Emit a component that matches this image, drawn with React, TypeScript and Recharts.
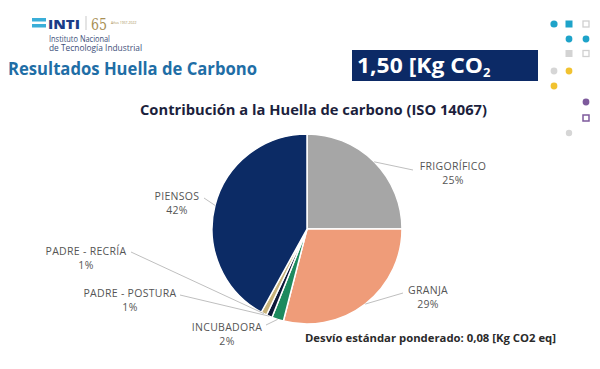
import { PieChart, Pie, Cell } from 'recharts';

const categories = ['FRIGORÍFICO', 'GRANJA', 'INCUBADORA', 'PADRE - POSTURA', 'PADRE - RECRÍA', 'PIENSOS'];
const shares = [25, 29, 2, 1, 1, 42];
const sliceColors = ['#a6a6a6', '#ef9c79', '#1d8a5e', '#0e1838', '#c8b27a', '#0c2b65'];

// label placement relative to pie center: text center (tx, ty) and leader end (ex, ey)
const labelSpots = [
  { tx: 146, ty: -63, ex: 106, ey: -59 },
  { tx: 121, ty: 61, ex: 96, ey: 64 },
  { tx: -80, ty: 98, ex: -41, ey: 96 },
  { tx: -177, ty: 64, ex: -127, ey: 66 },
  { tx: -221, ty: 22, ex: -176, ey: 23 },
  { tx: -130, ty: -33, ex: -103, ey: -31 },
];

const data = categories.map((name, i) => ({ name, value: shares[i] }));

const RAD = Math.PI / 180;
const FONT = '"Open Sans", "DejaVu Sans", sans-serif';

function renderLabel(props: any) {
  const { cx, cy, midAngle, outerRadius, index, name, percent } = props;
  const spot = labelSpots[index];
  const sx = cx + outerRadius * Math.cos(-midAngle * RAD);
  const sy = cy + outerRadius * Math.sin(-midAngle * RAD);
  const tx = cx + spot.tx;
  const ty = cy + spot.ty;
  return (
    <g key={`lbl-${index}`}>
      <line x1={sx} y1={sy} x2={cx + spot.ex} y2={cy + spot.ey} stroke="#bfbfbf" strokeWidth={1} />
      <text x={tx} y={ty} textAnchor="middle" dominantBaseline="central" fill="#555555" fontSize={10.5} letterSpacing={0.3} fontFamily={FONT}>
        {name}
      </text>
      <text x={tx} y={ty + 13.5} textAnchor="middle" dominantBaseline="central" fill="#555555" fontSize={10.5} letterSpacing={0.3} fontFamily={FONT}>
        {`${Math.round(percent * 100)}%`}
      </text>
    </g>
  );
}

function Header() {
  return (
    <svg width={600} height={369} style={{ position: 'absolute', left: 0, top: 0, pointerEvents: 'none' }}>
      {/* logo */}
      <rect x={32} y={18} width={14} height={3.5} fill="#3aaed8" />
      <rect x={32} y={24} width={14} height={3.5} fill="#3aaed8" />
      <text x={48} y={28.5} fontSize={13} fontWeight={800} fill="#1b3c87" fontFamily={FONT} textLength={32} lengthAdjust="spacingAndGlyphs">INTI</text>
      <line x1={86} y1={16} x2={86} y2={30} stroke="#c9c9c9" strokeWidth={1} />
      <text x={91} y={30} fontSize={16} fill="#a88f55" fontFamily='"DejaVu Serif", serif' textLength={16} lengthAdjust="spacingAndGlyphs">65</text>
      <text x={111} y={24} fontSize={3.4} fill="#a88f55" fontFamily={FONT}>Años 1957-2022</text>
      <text x={49} y={41.5} fontSize={8.5} fill="#3d4f7a" fontFamily={FONT} textLength={61} lengthAdjust="spacingAndGlyphs">Instituto Nacional</text>
      <text x={49} y={51} fontSize={8.5} fill="#3d4f7a" fontFamily={FONT} textLength={93} lengthAdjust="spacingAndGlyphs">de Tecnología Industrial</text>
      <text x={8} y={75} fontSize={17} fontWeight={700} fill="#1f6ea6" fontFamily={FONT} textLength={249} lengthAdjust="spacingAndGlyphs">Resultados Huella de Carbono</text>

      {/* value box */}
      <rect x={352} y={50} width={186} height={31} fill="#0c2a66" />
      <text x={357} y={73} fontSize={21} fontWeight={700} fill="#ffffff" fontFamily={FONT} textLength={126} lengthAdjust="spacingAndGlyphs">1,50 [Kg CO</text>
      <text x={483} y={77} fontSize={13} fontWeight={700} fill="#ffffff" fontFamily={FONT}>2</text>

      {/* decorative dots */}
      <circle cx={554} cy={24} r={3.6} fill="#1ea3c9" />
      <rect x={565.5} y={20.5} width={7} height={7} fill="#1ea3c9" />
      <rect x={583} y={21} width={6} height={6} fill="none" stroke="#d0d0d0" strokeWidth={1.3} />
      <circle cx={569} cy={39} r={3.4} fill="#1ea3c9" />
      <circle cx={586} cy={39} r={3.4} fill="#1ea3c9" />
      <rect x={565.5} y={50} width={7} height={7} fill="#d3d3d3" />
      <rect x={583} y={50.5} width={6} height={6} fill="none" stroke="#d0d0d0" strokeWidth={1.3} />
      <circle cx={554} cy={71} r={3.4} fill="#d6d6d6" />
      <circle cx={569} cy={71} r={3.4} fill="#f1c230" />
      <circle cx={554} cy={86} r={3.4} fill="#f1c230" />
      <circle cx={586} cy={102} r={3.4} fill="#7d5a9c" />
      <rect x={583} y={115} width={6} height={6} fill="none" stroke="#7d5a9c" strokeWidth={1.5} />
      <circle cx={569} cy={133} r={3.2} fill="#d6d6d6" />

      {/* chart title */}
      <text x={140} y={115} fontSize={14.5} fontWeight={700} fill="#1c1f3d" fontFamily={FONT} textLength={347} lengthAdjust="spacingAndGlyphs">
        Contribución a la Huella de carbono (ISO 14067)
      </text>

      {/* footnote */}
      <text x={305} y={342} fontSize={11} fontWeight={700} fill="#2a2a2a" fontFamily={FONT} textLength={251} lengthAdjust="spacingAndGlyphs">
        Desvío estándar ponderado: 0,08 [Kg CO2 eq]
      </text>
    </svg>
  );
}

export default function App() {
  return (
    <div style={{ position: 'fixed', left: 0, top: 0, width: 600, height: 369, background: '#ffffff', overflow: 'hidden' }}>
      <PieChart width={600} height={369} margin={{ top: 0, right: 0, bottom: 0, left: 0 }}>
        <Pie
          data={data}
          dataKey="value"
          nameKey="name"
          cx={307}
          cy={229}
          outerRadius={95}
          startAngle={90}
          endAngle={-270}
          stroke="#ffffff"
          strokeWidth={1.5}
          label={renderLabel}
          labelLine={false}
          isAnimationActive={false}
        >
          {data.map((d, i) => (
            <Cell key={d.name} fill={sliceColors[i]} />
          ))}
        </Pie>
      </PieChart>
      <Header />
    </div>
  );
}
